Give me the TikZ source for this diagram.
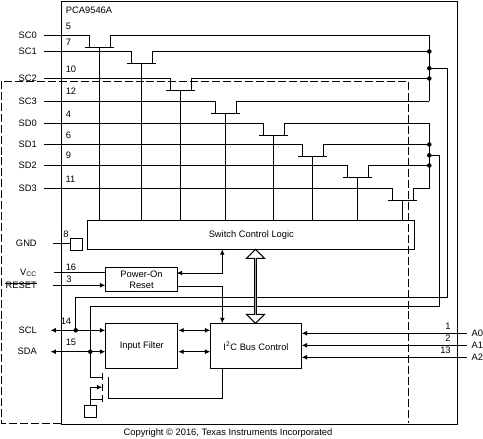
\documentclass[tikz,border=0pt]{standalone}
\usepackage{fontspec}
\usepackage{xcolor}
\setmainfont{Liberation Sans}
\usetikzlibrary{arrows.meta, positioning, shapes.arrows, calc}
\tikzset{
    wire/.style={line width=0.75pt},
    tip/.style={-{Latex[length=4pt,width=3.6pt]}, line width=0.75pt},
    bothtip/.style={{Latex[length=4pt,width=3.6pt]}-{Latex[length=4pt,width=3.6pt]}, line width=0.75pt},
    boundary/.style={line width=0.75pt, dash pattern=on 6pt off 2.2pt},
    block/.style={draw, line width=0.75pt, inner sep=0pt, align=center, anchor=north west},
    pad/.style={draw, line width=0.75pt, minimum width=9pt, minimum height=9pt, inner sep=0pt, anchor=north west},
    pinlabel/.style={anchor=east, inner sep=0pt},
    pinnumber/.style={inner sep=0pt},
    dot/.style={circle, fill=black, inner sep=0pt, minimum size=3.4pt}
}

\begin{document}
\begin{tikzpicture}[x=0.75pt, y=-0.75pt, every node/.style={font=\fontsize{7}{8.6}\selectfont}]
    \useasboundingbox (0,0) rectangle (483,439);
    % package and isolation boundary
    \node[block, minimum width=297pt, minimum height=317.5pt] (pkg) at (60.5,0.5) {};
    \coordinate (dashtl) at (1,81.3);
    \coordinate (dashtr) at (408.3,81.3);
    \coordinate (dashbl) at (1,423);
    \coordinate (dashbm) at (60.5,423);
    \coordinate (dashbr) at (408.3,423);
    \draw[boundary] (dashbm) -- (dashbl) -- (dashtl) -- (dashtr) -- (dashbr);
    \node[pinlabel, anchor=west] (part) at (65.7,10) {PCA9546A};

    % blocks
    \node[block, minimum width=245.25pt, minimum height=22.35pt] (logic) at (87.3,219.5) {Switch Control Logic};
    \node[block, minimum width=53.5pt, minimum height=18pt] (por) at (105.3,267.3) {Power-On\\Reset};
    \node[block, minimum width=54pt, minimum height=33.75pt] (filter) at (105.3,323.3) {Input Filter};
    \node[block, minimum width=67.8pt, minimum height=33.75pt] (ctrl) at (210.3,323.3) {I\textsuperscript{2}C Bus Control};
    \node[pad] (gndpad) at (70.3,237.7) {};
    \node[pad] (fetpad) at (84.3,405) {};

    % left pins
    \node[pinlabel] (sc0) at (37,35) {SC0};
    \node[pinlabel] (sc1) at (37,51) {SC1};
    \node[pinlabel] (sc2) at (37,78) {SC2};
    \node[pinlabel] (sc3) at (37,101) {SC3};
    \node[pinlabel] (sd0) at (37,123) {SD0};
    \node[pinlabel] (sd1) at (37,144) {SD1};
    \node[pinlabel] (sd2) at (37,165) {SD2};
    \node[pinlabel] (sd3) at (37,188) {SD3};
    \node[pinlabel] (gnd) at (37,243) {GND};
    \node[pinlabel] (vcc) at (37,273) {V\textsubscript{CC}};
    \node[pinlabel] (rst) at (37,285) {RESET};
    \node[pinlabel] (scl) at (37,330) {SCL};
    \node[pinlabel] (sda) at (37,351.5) {SDA};
    \draw[wire] (rst.north west) ++(0,-1.2pt) coordinate (rstl) -- (rstl -| rst.east) coordinate (rstr);

    % right pins
    \node[pinlabel, anchor=west] (a0) at (471.3,333) {A0};
    \node[pinlabel, anchor=west] (a1) at (471.3,345) {A1};
    \node[pinlabel, anchor=west] (a2) at (471.3,357) {A2};

    % pin numbers
    \node[pinnumber] (n5) at (68.5,26) {5};
    \node[pinnumber] (n7) at (68.5,42) {7};
    \node[pinnumber] (n10) at (71,69) {10};
    \node[pinnumber] (n12) at (71,91.5) {12};
    \node[pinnumber] (n4) at (68.5,114) {4};
    \node[pinnumber] (n6) at (68.5,135) {6};
    \node[pinnumber] (n9) at (68.5,155.5) {9};
    \node[pinnumber] (n11) at (70.5,179) {11};
    \node[pinnumber] (n8) at (66,234) {8};
    \node[pinnumber] (n16) at (71,267) {16};
    \node[pinnumber] (n3) at (69,279) {3};
    \node[pinnumber] (n14) at (66,321) {14};
    \node[pinnumber] (n15) at (71,342) {15};
    \node[pinnumber] (n1) at (448,326) {1};
    \node[pinnumber] (n2) at (448,338) {2};
    \node[pinnumber] (n13) at (445.5,350) {13};

    % free ends and junctions
    \coordinate (sc0w) at (44,35);
    \coordinate (sc1w) at (44,51.5);
    \coordinate (sc2w) at (44,78.5);
    \coordinate (sc3w) at (44,101);
    \coordinate (sd0w) at (44,123);
    \coordinate (sd1w) at (44,144.5);
    \coordinate (sd2w) at (44,165.5);
    \coordinate (sd3w) at (44,188.5);
    \coordinate (sc0e) at (429.3,35);
    \coordinate (sc1e) at (429.3,51.5);
    \coordinate (sctap) at (429.3,68.3);
    \coordinate (sc2e) at (429.3,78.5);
    \coordinate (sc3e) at (429.3,101);
    \coordinate (sd0e) at (429.3,123);
    \coordinate (sd1e) at (429.3,144.5);
    \coordinate (sdtap) at (429.3,155.3);
    \coordinate (sd2e) at (429.3,165.5);
    \coordinate (sd3e) at (429.3,188.5);

    % switches, left and right contact
    \coordinate (s0l) at (89.7,47.5);
    \coordinate (s0r) at (110.3,47.5);
    \coordinate (s0g) at (99.5,47.5);
    \coordinate (s1l) at (131.7,63.3);
    \coordinate (s1r) at (152.3,63.3);
    \coordinate (s1g) at (141.3,63.3);
    \coordinate (s2l) at (170.7,90);
    \coordinate (s2r) at (191.3,90);
    \coordinate (s2g) at (180.3,90);
    \coordinate (s3l) at (215.3,113);
    \coordinate (s3r) at (236.3,113);
    \coordinate (s3g) at (225.3,113);
    \coordinate (s4l) at (263.7,135.3);
    \coordinate (s4r) at (284.3,135.3);
    \coordinate (s4g) at (273.3,135.3);
    \coordinate (s5l) at (302.7,156);
    \coordinate (s5r) at (323.3,156);
    \coordinate (s5g) at (312.3,156);
    \coordinate (s6l) at (347.7,177.3);
    \coordinate (s6r) at (368.3,177.3);
    \coordinate (s6g) at (357.3,177.3);
    \coordinate (s7l) at (392.7,200.3);
    \coordinate (s7r) at (413.3,200.3);
    \coordinate (s7g) at (402.3,200.3);

    \draw[wire] (sc0w) -| (s0l);
    \draw[wire] (s0r) |- (sc0e);
    \draw[wire] ([xshift=-3.5pt]s0l) -- ([xshift=2.6pt]s0r);
    \draw[wire] (s0g) -- (s0g |- logic.north);
    \draw[wire] (sc1w) -| (s1l);
    \draw[wire] (s1r) |- (sc1e);
    \draw[wire] ([xshift=-3.5pt]s1l) -- ([xshift=2.6pt]s1r);
    \draw[wire] (s1g) -- (s1g |- logic.north);
    \draw[wire] (sc2w) -| (s2l);
    \draw[wire] (s2r) |- (sc2e);
    \draw[wire] ([xshift=-3.5pt]s2l) -- ([xshift=2.6pt]s2r);
    \draw[wire] (s2g) -- (s2g |- logic.north);
    \draw[wire] (sc3w) -| (s3l);
    \draw[wire] (s3r) |- (sc3e);
    \draw[wire] ([xshift=-3.5pt]s3l) -- ([xshift=2.6pt]s3r);
    \draw[wire] (s3g) -- (s3g |- logic.north);
    \draw[wire] (sd0w) -| (s4l);
    \draw[wire] (s4r) |- (sd0e);
    \draw[wire] ([xshift=-3.5pt]s4l) -- ([xshift=2.6pt]s4r);
    \draw[wire] (s4g) -- (s4g |- logic.north);
    \draw[wire] (sd1w) -| (s5l);
    \draw[wire] (s5r) |- (sd1e);
    \draw[wire] ([xshift=-3.5pt]s5l) -- ([xshift=2.6pt]s5r);
    \draw[wire] (s5g) -- (s5g |- logic.north);
    \draw[wire] (sd2w) -| (s6l);
    \draw[wire] (s6r) |- (sd2e);
    \draw[wire] ([xshift=-3.5pt]s6l) -- ([xshift=2.6pt]s6r);
    \draw[wire] (s6g) -- (s6g |- logic.north);
    \draw[wire] (sd3w) -| (s7l);
    \draw[wire] (s7r) |- (sd3e);
    \draw[wire] ([xshift=-3.5pt]s7l) -- ([xshift=2.6pt]s7r);
    \draw[wire] (s7g) -- (s7g |- logic.north);

    % buses back to the serial pins
    \draw[wire] (sc0e) -- (sc3e);
    \draw[wire] (sd0e) -- (sd3e);
    \coordinate (sclrun) at (447.7,297.3);
    \coordinate (sdarun) at (439.3,306.3);
    \coordinate (scljoin) at (75.7,330.3);
    \coordinate (sdajoin) at (90.3,351.7);
    \draw[wire] (sctap) -| (sclrun) -| (scljoin);
    \draw[wire] (sdtap) -| (sdarun) -| (sdajoin);
    \node[dot] (d1) at (sc1e) {};
    \node[dot] (d2) at (sctap) {};
    \node[dot] (d3) at (sc2e) {};
    \node[dot] (d4) at (sd1e) {};
    \node[dot] (d5) at (sdtap) {};
    \node[dot] (d6) at (sd2e) {};
    \node[dot] (d7) at (scljoin) {};
    \node[dot] (d8) at (sdajoin) {};

    % power and reset
    \coordinate (gndw) at (53,243.3);
    \coordinate (vccw) at (54,272.7);
    \coordinate (rstw) at (53,285.3);
    \coordinate (logicpin) at (222.3,249.3);
    \coordinate (porfb) at (176.7,273);
    \coordinate (porout) at (176.7,286.3);
    \coordinate (ctrlin) at (222.3,323.3);
    \draw[wire] (gndw) -- (gndw -| gndpad.west);
    \draw[wire] (vccw) -- (vccw -| por.west);
    \draw[tip] (rstw) -- (rstw -| por.west);
    \draw[bothtip] (logicpin) |- (porfb);
    \draw[tip] (porout) -| (ctrlin);

    % serial lines and address pins
    \coordinate (sclw) at (50.5,330.3);
    \coordinate (sdaw) at (50.5,351.7);
    \coordinate (a0w) at (466.7,333.3);
    \coordinate (a1w) at (466.7,345.3);
    \coordinate (a2w) at (466.7,357.3);
    \draw[bothtip] (sclw) -- (sclw -| filter.west);
    \draw[bothtip] (sdaw) -- (sdaw -| filter.west);
    \draw[bothtip] (filter.east |- sclw) -- (ctrl.west |- sclw);
    \draw[bothtip] (filter.east |- sdaw) -- (ctrl.west |- sdaw);
    \draw[tip] (a0w) -- (a0w -| ctrl.east);
    \draw[tip] (a1w) -- (a1w -| ctrl.east);
    \draw[tip] (a2w) -- (a2w -| ctrl.east);

    % pull-down transistor
    \coordinate (fetd) at (102.3,377.3);
    \coordinate (fetb) at (102.3,387.2);
    \coordinate (fets) at (102.3,399);
    \coordinate (fettee) at (90.3,387.2);
    \coordinate (fetgt) at (108.5,376.7);
    \coordinate (fetgb) at (108.5,398.3);
    \draw[wire] (sdajoin) |- (fetd);
    \draw[wire] (102.3,372.7) -- (102.3,379.5);
    \draw[wire] (102.3,384) -- (102.3,390.8);
    \draw[wire] (102.3,395) -- (102.3,401.7);
    \draw[tip] (fettee) -- (fetb);
    \draw[wire] (fettee) -- (fettee |- fetpad.north);
    \draw[wire] (fets -| fettee) -- (fets);
    \draw[wire] (fetgt) -- (fetgb) -| (ctrl.south -| ctrlin);

    % bus between logic and control
    \node[double arrow, draw, fill=white, line width=0.75pt, rotate=90, inner sep=0pt, minimum height=55.5pt, minimum width=13.5pt, double arrow head extend=4.1pt] (busarrow) at (255.5,286.3) {};

    \node[inner sep=0pt] (copy) at (228,433) {Copyright © 2016, Texas Instruments Incorporated};
\end{tikzpicture}
\end{document}
